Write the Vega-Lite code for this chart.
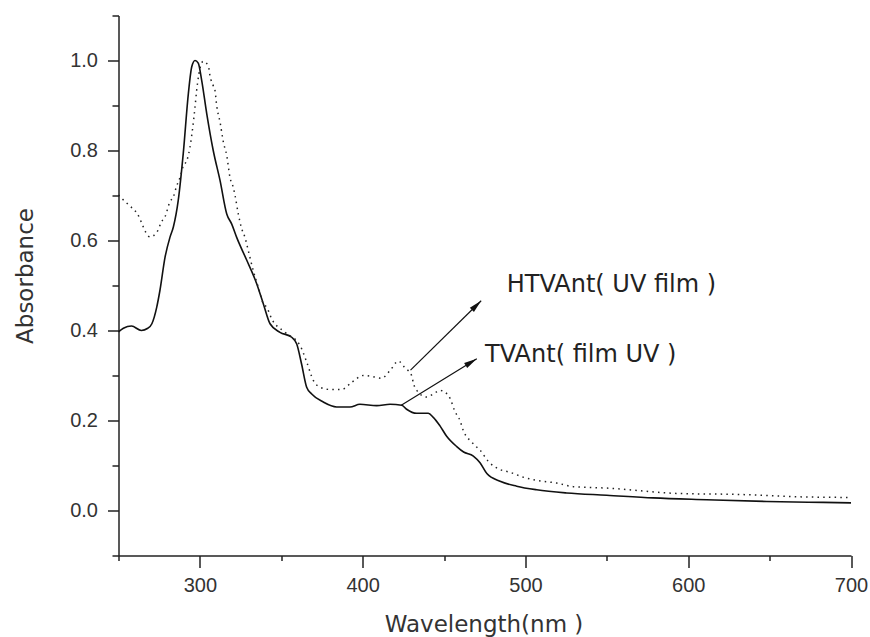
{
  "$schema": "https://vega.github.io/schema/vega-lite/v6.json",
  "width": 732.5,
  "height": 540,
  "autosize": "none",
  "padding": {"left": 118.5, "top": 15.5, "right": 19, "bottom": 81.5},
  "background": "white",
  "config": {
    "view": {"stroke": null},
    "axis": {
      "grid": false,
      "domainColor": "#222",
      "domainWidth": 1.5,
      "tickColor": "#222",
      "tickWidth": 1.5,
      "labelColor": "#333",
      "labelFont": "Liberation Sans",
      "labelFontSize": 20,
      "titleColor": "#333",
      "titleFont": "DejaVu Sans",
      "titleFontSize": 23,
      "titleFontWeight": "normal"
    }
  },
  "datasets": {
    "tv": [
      {"wl": 250, "ab": 0.397}, {"wl": 253, "ab": 0.405}, {"wl": 258, "ab": 0.41}, {"wl": 264, "ab": 0.4},
      {"wl": 268, "ab": 0.405}, {"wl": 270.5, "ab": 0.415}, {"wl": 273.5, "ab": 0.452}, {"wl": 275.5, "ab": 0.49},
      {"wl": 278.6, "ab": 0.563}, {"wl": 281.6, "ab": 0.607}, {"wl": 283.7, "ab": 0.63}, {"wl": 286.7, "ab": 0.689},
      {"wl": 289.8, "ab": 0.794}, {"wl": 292.9, "ab": 0.926}, {"wl": 295, "ab": 0.986}, {"wl": 297, "ab": 1.0},
      {"wl": 299, "ab": 0.994}, {"wl": 301.1, "ab": 0.956}, {"wl": 304.2, "ab": 0.882}, {"wl": 308.2, "ab": 0.8},
      {"wl": 312.4, "ab": 0.733}, {"wl": 316.5, "ab": 0.659}, {"wl": 319.5, "ab": 0.637}, {"wl": 322.6, "ab": 0.607},
      {"wl": 328.8, "ab": 0.556}, {"wl": 334.9, "ab": 0.504}, {"wl": 339, "ab": 0.459}, {"wl": 343.1, "ab": 0.415},
      {"wl": 349.2, "ab": 0.396}, {"wl": 356.4, "ab": 0.385}, {"wl": 359.5, "ab": 0.37}, {"wl": 362.5, "ab": 0.325},
      {"wl": 365.6, "ab": 0.274}, {"wl": 368.7, "ab": 0.259}, {"wl": 375.8, "ab": 0.241}, {"wl": 384, "ab": 0.23},
      {"wl": 392.2, "ab": 0.23}, {"wl": 398.3, "ab": 0.236}, {"wl": 408.6, "ab": 0.233}, {"wl": 416.8, "ab": 0.236},
      {"wl": 424, "ab": 0.234}, {"wl": 427, "ab": 0.225}, {"wl": 433.2, "ab": 0.216}, {"wl": 440.3, "ab": 0.216},
      {"wl": 443.4, "ab": 0.207}, {"wl": 447.5, "ab": 0.188}, {"wl": 451.6, "ab": 0.165}, {"wl": 457.8, "ab": 0.142},
      {"wl": 462, "ab": 0.13}, {"wl": 468, "ab": 0.121}, {"wl": 472.1, "ab": 0.106}, {"wl": 476.3, "ab": 0.082},
      {"wl": 484.4, "ab": 0.065}, {"wl": 494.6, "ab": 0.054}, {"wl": 506.9, "ab": 0.046}, {"wl": 525.3, "ab": 0.039},
      {"wl": 549.9, "ab": 0.034}, {"wl": 578.5, "ab": 0.028}, {"wl": 611.3, "ab": 0.024}, {"wl": 648.2, "ab": 0.02},
      {"wl": 683, "ab": 0.018}, {"wl": 700, "ab": 0.017}
    ],
    "htv": [
      {"wl": 250, "ab": 0.701}, {"wl": 253, "ab": 0.69}, {"wl": 256, "ab": 0.68}, {"wl": 263.2, "ab": 0.648},
      {"wl": 264.3, "ab": 0.638}, {"wl": 269.4, "ab": 0.608}, {"wl": 273.5, "ab": 0.618}, {"wl": 276.5, "ab": 0.642},
      {"wl": 278.6, "ab": 0.653}, {"wl": 281.6, "ab": 0.686}, {"wl": 283.7, "ab": 0.697}, {"wl": 285.7, "ab": 0.721},
      {"wl": 287.8, "ab": 0.74}, {"wl": 289.8, "ab": 0.766}, {"wl": 291.9, "ab": 0.777}, {"wl": 293.9, "ab": 0.807},
      {"wl": 295.6, "ab": 0.851}, {"wl": 297, "ab": 0.896}, {"wl": 298, "ab": 0.933}, {"wl": 298.6, "ab": 0.951},
      {"wl": 299.4, "ab": 0.97}, {"wl": 302, "ab": 0.998}, {"wl": 305.2, "ab": 0.988}, {"wl": 306.2, "ab": 0.966},
      {"wl": 308.2, "ab": 0.944}, {"wl": 309.3, "ab": 0.933}, {"wl": 310.3, "ab": 0.9}, {"wl": 312.4, "ab": 0.863},
      {"wl": 314.4, "ab": 0.819}, {"wl": 316.5, "ab": 0.789}, {"wl": 318.5, "ab": 0.74}, {"wl": 320.5, "ab": 0.718},
      {"wl": 321.6, "ab": 0.7}, {"wl": 323.6, "ab": 0.659}, {"wl": 325.7, "ab": 0.626}, {"wl": 327.7, "ab": 0.607},
      {"wl": 329.7, "ab": 0.578}, {"wl": 332.8, "ab": 0.533}, {"wl": 335.9, "ab": 0.496}, {"wl": 339, "ab": 0.459},
      {"wl": 341, "ab": 0.452}, {"wl": 344.1, "ab": 0.426}, {"wl": 352.3, "ab": 0.396}, {"wl": 361.5, "ab": 0.367},
      {"wl": 365.6, "ab": 0.33}, {"wl": 369.7, "ab": 0.289}, {"wl": 373.8, "ab": 0.274}, {"wl": 379.9, "ab": 0.269},
      {"wl": 387.1, "ab": 0.269}, {"wl": 393.3, "ab": 0.285}, {"wl": 400.4, "ab": 0.3}, {"wl": 405.5, "ab": 0.298},
      {"wl": 411.7, "ab": 0.294}, {"wl": 416.8, "ab": 0.311}, {"wl": 421.9, "ab": 0.332}, {"wl": 426, "ab": 0.317},
      {"wl": 430.1, "ab": 0.3}, {"wl": 431.1, "ab": 0.284}, {"wl": 433.2, "ab": 0.267}, {"wl": 439.3, "ab": 0.252},
      {"wl": 443.4, "ab": 0.259}, {"wl": 447.5, "ab": 0.267}, {"wl": 450.6, "ab": 0.263}, {"wl": 453.6, "ab": 0.25},
      {"wl": 456.7, "ab": 0.22}, {"wl": 459.8, "ab": 0.2}, {"wl": 461.8, "ab": 0.178}, {"wl": 467, "ab": 0.152},
      {"wl": 470, "ab": 0.141}, {"wl": 472.1, "ab": 0.134}, {"wl": 477.2, "ab": 0.109}, {"wl": 484.4, "ab": 0.091},
      {"wl": 490.5, "ab": 0.085}, {"wl": 498.7, "ab": 0.074}, {"wl": 506.9, "ab": 0.067}, {"wl": 519.2, "ab": 0.061},
      {"wl": 529.4, "ab": 0.053}, {"wl": 541.7, "ab": 0.051}, {"wl": 554, "ab": 0.049}, {"wl": 570.4, "ab": 0.044},
      {"wl": 586.8, "ab": 0.039}, {"wl": 603.1, "ab": 0.037}, {"wl": 627.7, "ab": 0.036}, {"wl": 650.2, "ab": 0.033},
      {"wl": 672.8, "ab": 0.03}, {"wl": 700, "ab": 0.029}
    ],
    "arrowH": [{"wl": 429.4, "ab": 0.312, "wl2": 472.8, "ab2": 0.466}],
    "arrowT": [{"wl": 423.7, "ab": 0.234, "wl2": 470.1, "ab2": 0.337}],
    "labels": [
      {"wl": 488.5, "ab": 0.486, "text": "HTVAnt( UV film )"},
      {"wl": 475.2, "ab": 0.331, "text": "TVAnt( film UV )"}
    ]
  },
  "layer": [
    {
      "data": {"name": "tv"},
      "mark": {"type": "line", "color": "#111", "strokeWidth": 1.6, "interpolate": "monotone"},
      "encoding": {
        "x": {
          "field": "wl", "type": "quantitative",
          "scale": {"domain": [250, 700], "nice": false, "zero": false},
          "axis": {
            "values": [250, 300, 350, 400, 450, 500, 550, 600, 650, 700],
            "labelExpr": "datum.value % 100 === 0 ? datum.label : ''",
            "tickSize": {"condition": {"test": "datum.value % 100 === 0", "value": 12}, "value": 5},
            "labelPadding": 8,
            "labelFlush": false,
            "labelOverlap": false,
            "title": "Wavelength(nm )",
            "titleBaseline": "alphabetic",
            "titleY": 76,
            "titleX": 365
          }
        },
        "y": {
          "field": "ab", "type": "quantitative",
          "scale": {"domain": [-0.1, 1.1], "nice": false, "zero": false},
          "axis": {
            "values": [-0.1, 0, 0.1, 0.2, 0.3, 0.4, 0.5, 0.6, 0.7, 0.8, 0.9, 1.0, 1.1],
            "labelExpr": "round(datum.value * 10) % 2 === 0 ? format(datum.value, '.1f') : ''",
            "tickSize": {"condition": {"test": "round(datum.value * 10) % 2 === 0", "value": 11}, "value": 6.5},
            "labelPadding": 10,
            "labelFlush": false,
            "labelOverlap": false,
            "title": "Absorbance",
            "titleAngle": -90,
            "titleBaseline": "alphabetic",
            "titleAlign": "center",
            "titleX": -86,
            "titleY": 260
          }
        }
      }
    },
    {
      "data": {"name": "htv"},
      "mark": {"type": "line", "color": "#222", "strokeWidth": 1.5, "strokeDash": [1.5, 4.2], "interpolate": "monotone"},
      "encoding": {
        "x": {"field": "wl", "type": "quantitative"},
        "y": {"field": "ab", "type": "quantitative"}
      }
    },
    {
      "data": {"name": "arrowH"},
      "mark": {"type": "rule", "color": "#111", "strokeWidth": 1.2},
      "encoding": {
        "x": {"field": "wl", "type": "quantitative"},
        "y": {"field": "ab", "type": "quantitative"},
        "x2": {"field": "wl2"},
        "y2": {"field": "ab2"}
      }
    },
    {
      "data": {"name": "arrowT"},
      "mark": {"type": "rule", "color": "#111", "strokeWidth": 1.2},
      "encoding": {
        "x": {"field": "wl", "type": "quantitative"},
        "y": {"field": "ab", "type": "quantitative"},
        "x2": {"field": "wl2"},
        "y2": {"field": "ab2"}
      }
    },
    {
      "data": {"name": "arrowH"},
      "mark": {"type": "point", "shape": "M -2 -0.45 L 0 0 L -2 0.45 Z", "filled": true, "color": "#111", "opacity": 1, "size": 169, "angle": 315.6},
      "encoding": {
        "x": {"field": "wl2", "type": "quantitative"},
        "y": {"field": "ab2", "type": "quantitative"}
      }
    },
    {
      "data": {"name": "arrowT"},
      "mark": {"type": "point", "shape": "M -2 -0.45 L 0 0 L -2 0.45 Z", "filled": true, "color": "#111", "opacity": 1, "size": 169, "angle": 328.7},
      "encoding": {
        "x": {"field": "wl2", "type": "quantitative"},
        "y": {"field": "ab2", "type": "quantitative"}
      }
    },
    {
      "data": {"name": "labels"},
      "mark": {"type": "text", "align": "left", "baseline": "alphabetic", "font": "DejaVu Sans", "fontSize": 24, "color": "#222"},
      "encoding": {
        "x": {"field": "wl", "type": "quantitative"},
        "y": {"field": "ab", "type": "quantitative"},
        "text": {"field": "text"}
      }
    }
  ]
}
